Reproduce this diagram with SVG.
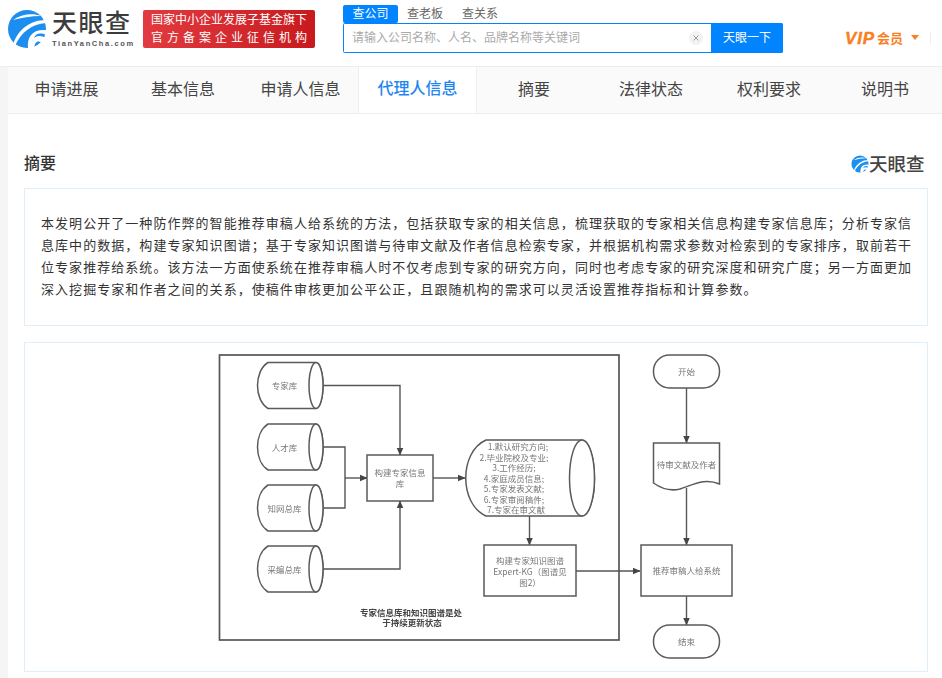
<svg xmlns="http://www.w3.org/2000/svg" width="942" height="678" viewBox="0 0 942 678">
<style>
text{font-family:"Noto Sans CJK SC","Liberation Sans",sans-serif}
.tab{font-size:16px;fill:#444;text-anchor:middle}
.abs{font-size:13px;fill:#333;letter-spacing:1.05px}
.panel{fill:#fff;stroke:#e0eefa}
.shape{fill:#fff;stroke:#5a5a5a;stroke-width:1.5}
.lbl{font-size:8.5px;fill:#777;text-anchor:middle}
.con{fill:none;stroke:#555;stroke-width:1.4}
.note{font-size:8.5px;font-weight:700;fill:#444;text-anchor:middle}
</style>
<defs>
<marker id="arr" viewBox="0 0 8 8" refX="7.5" refY="4" markerWidth="7.500" markerHeight="7.500" markerUnits="userSpaceOnUse" orient="auto"><path d="M0 .5L8 4L0 7.500Z" fill="#444"/></marker>
<linearGradient id="red" x1="0" x2="1"><stop offset="0" stop-color="#e23a40"/><stop offset="1" stop-color="#c81a1e"/></linearGradient>
<filter id="soft" x="-5%" y="-5%" width="110%" height="110%"><feGaussianBlur stdDeviation="0.5"/></filter>
<g id="swirl"><circle cx="0" cy="0" r="19" fill="#1c8ef0"/><path d="M-14 16C-10 2 2-9 19-9L19-6C5-5-6 3-12 17ZM-14-9C-6-15 6-16 14-13C4-13-6-11-14-9ZM1 19C0 8 5 0 19 1L19 6C13 3 8 5 7 9C11 6 15 7 19 9L15 14C11 11 8 12 7 19Z" fill="#fff"/></g>
</defs>
<rect width="942" height="678" fill="#fff"/>
<g id="header">
<use href="#swirl" x="27" y="29"/>
<text x="52" y="32" font-size="25" font-weight="500" fill="#3c3c3c" letter-spacing="1.5">天眼查</text>
<text x="52" y="46" font-size="7.500" font-weight="700" fill="#555" letter-spacing="1.6" style="font-family:'Liberation Sans',sans-serif">TianYanCha.com</text>
<rect x="143" y="10" width="172" height="38" rx="2" fill="url(#red)"/>
<text x="229" y="24" font-size="12" fill="#fff" text-anchor="middle">国家中小企业发展子基金旗下</text>
<text x="231" y="42" font-size="12" fill="#fff" text-anchor="middle" letter-spacing="4">官方备案企业征信机构</text>
<rect x="343" y="5" width="55" height="18" rx="2" fill="#0084ff"/>
<text x="370.500" y="18" font-size="12" fill="#fff" text-anchor="middle">查公司</text>
<text x="425" y="18" font-size="12" fill="#666" text-anchor="middle">查老板</text>
<text x="480" y="18" font-size="12" fill="#666" text-anchor="middle">查关系</text>
<rect x="343.500" y="23.500" width="439" height="29" rx="1" fill="#fff" stroke="#0084ff"/>
<text x="352" y="42" font-size="12" fill="#aaa">请输入公司名称、人名、品牌名称等关键词</text>
<circle cx="696" cy="38" r="7" fill="#f2f2f2"/>
<path d="M693.500 35.500l5 5M698.500 35.500l-5 5" stroke="#999" stroke-width="1"/>
<path d="M711 23H781a2 2 0 0 1 2 2V51a2 2 0 0 1-2 2H711Z" fill="#0084ff"/>
<text x="747" y="42" font-size="12" fill="#fff" text-anchor="middle">天眼一下</text>
<text x="845" y="44" font-size="17" font-weight="700" font-style="italic" fill="#f97f24" stroke="#f97f24" stroke-width=".4" letter-spacing=".8" style="font-family:'Liberation Sans',sans-serif">VIP</text>
<text x="877" y="43" font-size="13" font-weight="700" fill="#f97f24">会员</text>
<path d="M911 35h8l-4 5Z" fill="#f97f24"/>
<path d="M930.500 32v13" stroke="#eee"/>
</g>
<g id="tabs">
<rect y="66" width="942" height="612" fill="#f5f5f5"/>
<rect x="8" y="66" width="934" height="47" fill="#fafafa"/>
<rect x="8" y="113" width="934" height="565" fill="#fff"/>
<path d="M0 66.500H942M8 113.500H942" stroke="#eee"/>
<rect x="358.500" y="66.500" width="118" height="47" fill="#fff" stroke="#eee"/>
<text class="tab" x="66.500" y="95">申请进展</text>
<text class="tab" x="183" y="95">基本信息</text>
<text class="tab" x="300.500" y="95">申请人信息</text>
<text class="tab" x="417.500" y="94" font-weight="500" style="fill:#1f86f0">代理人信息</text>
<text class="tab" x="534" y="95">摘要</text>
<text class="tab" x="651" y="95">法律状态</text>
<text class="tab" x="769" y="95">权利要求</text>
<text class="tab" x="885" y="95">说明书</text>
</g>
<g id="abstract">
<text x="24" y="169" font-size="16" font-weight="500" fill="#333">摘要</text>
<use href="#swirl" transform="translate(860 164) scale(.45)"/>
<text x="869" y="171" font-size="18.500" font-weight="500" fill="#444">天眼查</text>
<rect class="panel" x="24.500" y="188.500" width="903" height="137"/>
<text class="abs" x="41" y="228">本发明公开了一种防作弊的智能推荐审稿人给系统的方法，包括获取专家的相关信息，梳理获取的专家相关信息构建专家信息库；分析专家信</text>
<text class="abs" x="41" y="250">息库中的数据，构建专家知识图谱；基于专家知识图谱与待审文献及作者信息检索专家，并根据机构需求参数对检索到的专家排序，取前若干</text>
<text class="abs" x="41" y="272">位专家推荐给系统。该方法一方面使系统在推荐审稿人时不仅考虑到专家的研究方向，同时也考虑专家的研究深度和研究广度；另一方面更加</text>
<text class="abs" x="41" y="294">深入挖掘专家和作者之间的关系，使稿件审核更加公平公正，且跟随机构的需求可以灵活设置推荐指标和计算参数。</text>
<rect class="panel" x="24.500" y="342.500" width="903" height="329"/>
</g>
<g filter="url(#soft)">
<rect id="frame" x="219.500" y="355" width="399.500" height="285" fill="none" stroke="#555" stroke-width="1.7"/>
<g id="connectors">
<path class="con" d="M323 385.500H400V455" marker-end="url(#arr)"/>
<path class="con" d="M323 447H345V508H323"/>
<path class="con" d="M345 478H367" marker-end="url(#arr)"/>
<path class="con" d="M323 569H400V501" marker-end="url(#arr)"/>
<path class="con" d="M433 478H465" marker-end="url(#arr)"/>
<path class="con" d="M529.500 516V545" marker-end="url(#arr)"/>
<path class="con" d="M576 571H640" marker-end="url(#arr)"/>
<path class="con" d="M686.500 388V443" marker-end="url(#arr)"/>
<path class="con" d="M686.500 488V545" marker-end="url(#arr)"/>
<path class="con" d="M686.500 596V625" marker-end="url(#arr)"/>
</g>
<g id="n-zhuanjia"><path class="shape" d="M268 362.500H316A7 23 0 0 1 316 408.500H268C254 400 254 371 268 362.500Z"/><ellipse class="shape" cx="316" cy="385.500" rx="7" ry="23"/><text class="lbl" x="284.500" y="389">专家库</text></g>
<g id="n-rencai"><path class="shape" d="M268 424H316A7 23 0 0 1 316 470H268C254 461 254 433 268 424Z"/><ellipse class="shape" cx="316" cy="447" rx="7" ry="23"/><text class="lbl" x="284.500" y="451">人才库</text></g>
<g id="n-zhiwang"><path class="shape" d="M268 485H316A7 23 0 0 1 316 531H268C254 522 254 494 268 485Z"/><ellipse class="shape" cx="316" cy="508" rx="7" ry="23"/><text class="lbl" x="284.500" y="512">知网总库</text></g>
<g id="n-caibian"><path class="shape" d="M268 546H316A7 23 0 0 1 316 592H268C254 583 254 555 268 546Z"/><ellipse class="shape" cx="316" cy="569" rx="7" ry="23"/><text class="lbl" x="284.500" y="573">采编总库</text></g>
<g id="n-build"><rect class="shape" x="367" y="455" width="66" height="46"/><text class="lbl"><tspan x="400" y="476">构建专家信息</tspan><tspan x="400" y="487">库</tspan></text></g>
<g id="n-db"><path class="shape" d="M486 440H582A12.500 38 0 0 1 582 516H486C459 504 459 452 486 440Z"/><ellipse class="shape" cx="582" cy="478" rx="12.500" ry="38"/>
<text class="lbl"><tspan x="518" y="450">1.默认研究方向;</tspan><tspan x="514" y="460.500">2.毕业院校及专业;</tspan><tspan x="514" y="471">3.工作经历;</tspan><tspan x="514" y="481.500">4.家庭成员信息;</tspan><tspan x="514" y="492">5.专家发表文献;</tspan><tspan x="514" y="502.500">6.专家审阅稿件;</tspan><tspan x="516" y="513">7.专家在审文献</tspan></text></g>
<g id="n-kg"><rect class="shape" x="484" y="545" width="92" height="51"/><text class="lbl"><tspan x="530" y="564">构建专家知识图谱</tspan><tspan x="530" y="575">Expert-KG（图谱见</tspan><tspan x="530" y="586">图2）</tspan></text></g>
<g id="n-note"><text class="note"><tspan x="411" y="615.500">专家信息库和知识图谱是处</tspan><tspan x="412" y="626">于持续更新状态</tspan></text></g>
<g id="n-start"><rect class="shape" x="653.500" y="355" width="66" height="33" rx="16"/><text class="lbl" x="686.500" y="375">开始</text></g>
<g id="n-doc"><path class="shape" d="M653.500 443H719.500V484C705 478 695 484 680 489C672 491 662 489 653.500 483Z"/><text class="lbl" x="686.500" y="468">待审文献及作者</text></g>
<g id="n-rec"><rect class="shape" x="641" y="545" width="91" height="51"/><text class="lbl" x="686.500" y="574">推荐审稿人给系统</text></g>
<g id="n-end"><rect class="shape" x="653.500" y="625" width="66" height="33" rx="16"/><text class="lbl" x="686.500" y="645">结束</text></g>
</g>
</svg>
